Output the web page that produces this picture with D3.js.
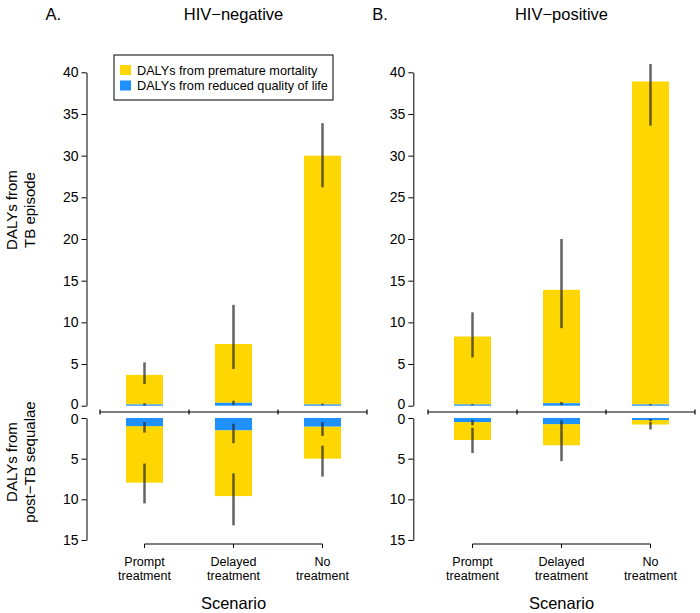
<!DOCTYPE html>
<html><head><meta charset="utf-8">
<script src="https://cdn.jsdelivr.net/npm/d3@7"></script>
<style>body{margin:0;background:#fff}svg{display:block;font-family:"Liberation Sans",Arial,Helvetica,sans-serif}</style>
</head><body><svg id="c" width="700" height="613"></svg>
<script>
const scenarios = ["Prompt treatment", "Delayed treatment", "No treatment"];
const scenarioLines = [["Prompt","treatment"],["Delayed","treatment"],["No","treatment"]];
const episodeTicks = [0,5,10,15,20,25,30,35,40];
const sequelaeTicks = [0,5,10,15];
const legendLabels = ["DALYs from premature mortality", "DALYs from reduced quality of life"];

// HIV-negative, TB episode
const negEpQol = [0.15, 0.35, 0.15];
const negEpTotal = [3.7, 7.4, 30.0];
const negEpQolLo = [0.0, 0.1, 0.05], negEpQolHi = [0.3, 0.6, 0.25];
const negEpTotLo = [2.6, 4.4, 26.2], negEpTotHi = [5.2, 12.1, 33.9];
// HIV-positive, TB episode
const posEpQol = [0.15, 0.3, 0.15];
const posEpTotal = [8.3, 13.9, 38.9];
const posEpQolLo = [0.05, 0.1, 0.05], posEpQolHi = [0.2, 0.45, 0.2];
const posEpTotLo = [5.8, 9.3, 33.6], posEpTotHi = [11.2, 20.0, 41.0];
// HIV-negative, post-TB sequelae
const negSqQol = [1.0, 1.5, 1.05];
const negSqTotal = [7.95, 9.6, 5.0];
const negSqQolLo = [0.5, 0.7, 0.5], negSqQolHi = [1.8, 3.1, 2.2];
const negSqTotLo = [5.6, 6.8, 3.4], negSqTotHi = [10.5, 13.2, 7.2];
// HIV-positive, post-TB sequelae
const posSqQol = [0.5, 0.75, 0.25];
const posSqTotal = [2.7, 3.35, 0.8];
const posSqQolLo = [0.25, 0.3, 0.1], posSqQolHi = [0.9, 1.5, 0.4];
const posSqTotLo = [1.2, 1.5, 0.5], posSqTotHi = [4.3, 5.3, 1.4];

const YELLOW = "#FFD700", BLUE = "#1E90FF", ERR = "rgba(40,40,40,0.72)";
const svg = d3.select("#c");

const yTop = d3.scaleLinear().domain([0, 40]).range([405.7, 72.3]);
const yBot = d3.scaleLinear().domain([0, 15]).range([418, 540]);

const panels = [
  {axisX: 86.5, x0: 100, letter: "A.", title: "HIV\u2212negative",
   ep: [negEpQol, negEpTotal, negEpQolLo, negEpQolHi, negEpTotLo, negEpTotHi],
   sq: [negSqQol, negSqTotal, negSqQolLo, negSqQolHi, negSqTotLo, negSqTotHi], legend: true},
  {axisX: 413.3, x0: 428, letter: "B.", title: "HIV\u2212positive",
   ep: [posEpQol, posEpTotal, posEpQolLo, posEpQolHi, posEpTotLo, posEpTotHi],
   sq: [posSqQol, posSqTotal, posSqQolLo, posSqQolHi, posSqTotLo, posSqTotHi], legend: false}
];

panels.forEach(p => {
  const g = svg.append("g");
  const x = d3.scaleBand().domain(scenarios).range([p.x0, p.x0 + 267]).paddingInner(0.584).paddingOuter(0.292);
  const cx = s => x(s) + x.bandwidth() / 2;

  // Title
  g.append("text").attr("x", p.axisX - 41).attr("y", 20).attr("font-size", 16.5).text(p.letter);
  g.append("text").attr("x", cx(scenarios[1])).attr("y", 20).attr("text-anchor", "middle").attr("font-size", 16.5).text(p.title);

  // Y axes
  const axT = g.append("g").attr("transform", `translate(${p.axisX},0)`)
    .call(d3.axisLeft(yTop).tickValues(episodeTicks).tickSize(5).tickPadding(3).tickSizeOuter(0));
  const axB = g.append("g").attr("transform", `translate(${p.axisX},0)`)
    .call(d3.axisLeft(yBot).tickValues(sequelaeTicks).tickSize(5).tickPadding(3).tickSizeOuter(0));
  [axT, axB].forEach(a => {
    a.select(".domain").attr("stroke", "#000");
    a.selectAll("text").attr("font-size", 14).attr("fill", "#000").attr("font-family", "Liberation Sans, Arial, sans-serif");
  });
  // the two zero labels sit very close, as in the reference; nudge slightly apart
  axT.selectAll(".tick").filter(d => d === 0).select("text").attr("dy", "0.22em");
  axB.selectAll(".tick").filter(d => d === 0).select("text").attr("dy", "0.42em");

  // Stacked bars, TB episode (upward)
  const [eq, et, eqlo, eqhi, etlo, ethi] = p.ep;
  scenarios.forEach((s, i) => {
    g.append("rect").attr("x", x(s)).attr("width", x.bandwidth())
      .attr("y", yTop(et[i])).attr("height", yTop(eq[i]) - yTop(et[i])).attr("fill", YELLOW);
    g.append("rect").attr("x", x(s)).attr("width", x.bandwidth())
      .attr("y", yTop(eq[i])).attr("height", yTop(0) - yTop(eq[i])).attr("fill", BLUE);
    g.append("line").attr("x1", cx(s)).attr("x2", cx(s)).attr("y1", yTop(etlo[i])).attr("y2", yTop(ethi[i]))
      .attr("stroke", ERR).attr("stroke-width", 2.5);
    g.append("line").attr("x1", cx(s)).attr("x2", cx(s)).attr("y1", yTop(eqlo[i])).attr("y2", yTop(eqhi[i]))
      .attr("stroke", ERR).attr("stroke-width", 2.5);
  });

  // Stacked bars, sequelae (downward)
  const [sq, st, sqlo, sqhi, stlo, sthi] = p.sq;
  scenarios.forEach((s, i) => {
    g.append("rect").attr("x", x(s)).attr("width", x.bandwidth())
      .attr("y", yBot(sq[i])).attr("height", yBot(st[i]) - yBot(sq[i])).attr("fill", YELLOW);
    g.append("rect").attr("x", x(s)).attr("width", x.bandwidth())
      .attr("y", yBot(0)).attr("height", yBot(sq[i]) - yBot(0)).attr("fill", BLUE);
    g.append("line").attr("x1", cx(s)).attr("x2", cx(s)).attr("y1", yBot(stlo[i])).attr("y2", yBot(sthi[i]))
      .attr("stroke", ERR).attr("stroke-width", 2.5);
    g.append("line").attr("x1", cx(s)).attr("x2", cx(s)).attr("y1", yBot(sqlo[i])).attr("y2", yBot(sqhi[i]))
      .attr("stroke", ERR).attr("stroke-width", 2.5);
  });

  // Middle separator axis with ticks at category boundaries
  const b = [0,1,2,3].map(k => p.x0 + k * x.step());
  g.append("line").attr("x1", b[0]).attr("x2", b[3]).attr("y1", 412).attr("y2", 412).attr("stroke", "#000").attr("stroke-width", 1.2);
  b.forEach(v => g.append("line").attr("x1", v).attr("x2", v).attr("y1", 409.5).attr("y2", 414.5).attr("stroke", "#000").attr("stroke-width", 1.2));

  // Bottom x axis at bar centers
  const xa = g.append("g").attr("transform", "translate(0,544)");
  xa.append("line").attr("x1", cx(scenarios[0])).attr("x2", cx(scenarios[2])).attr("stroke", "#000");
  scenarios.forEach((s, i) => {
    xa.append("line").attr("x1", cx(s)).attr("x2", cx(s)).attr("y1", 0).attr("y2", 4).attr("stroke", "#000");
    scenarioLines[i].forEach((ln, j) => {
      xa.append("text").attr("x", cx(s)).attr("y", 21.5 + j * 14).attr("text-anchor", "middle").attr("font-size", 12.5).text(ln);
    });
  });
  g.append("text").attr("x", cx(scenarios[1])).attr("y", 609).attr("text-anchor", "middle").attr("font-size", 16.5).text("Scenario");

  // Legend
  if (p.legend) {
    const lg = g.append("g");
    lg.append("rect").attr("x", 114).attr("y", 55).attr("width", 219).attr("height", 45).attr("fill", "#fff").attr("stroke", "#000");
    [YELLOW, BLUE].forEach((c, k) => {
      lg.append("rect").attr("x", 120).attr("y", 65 + k * 15.5).attr("width", 11).attr("height", 10).attr("fill", c);
      lg.append("text").attr("x", 137).attr("y", 74.5 + k * 15.5).attr("font-size", 12.7).text(legendLabels[k]);
    });
  }
});

// Y axis titles
function vtitle(lines, cy) {
  lines.forEach((ln, j) => {
    svg.append("text").attr("transform", `translate(${17 + j * 18},${cy}) rotate(-90)`)
      .attr("text-anchor", "middle").attr("font-size", 15).text(ln);
  });
}
vtitle(["DALYs from", "TB episode"], 210);
vtitle(["DALYs from", "post\u2212TB sequalae"], 462);
</script></body></html>
